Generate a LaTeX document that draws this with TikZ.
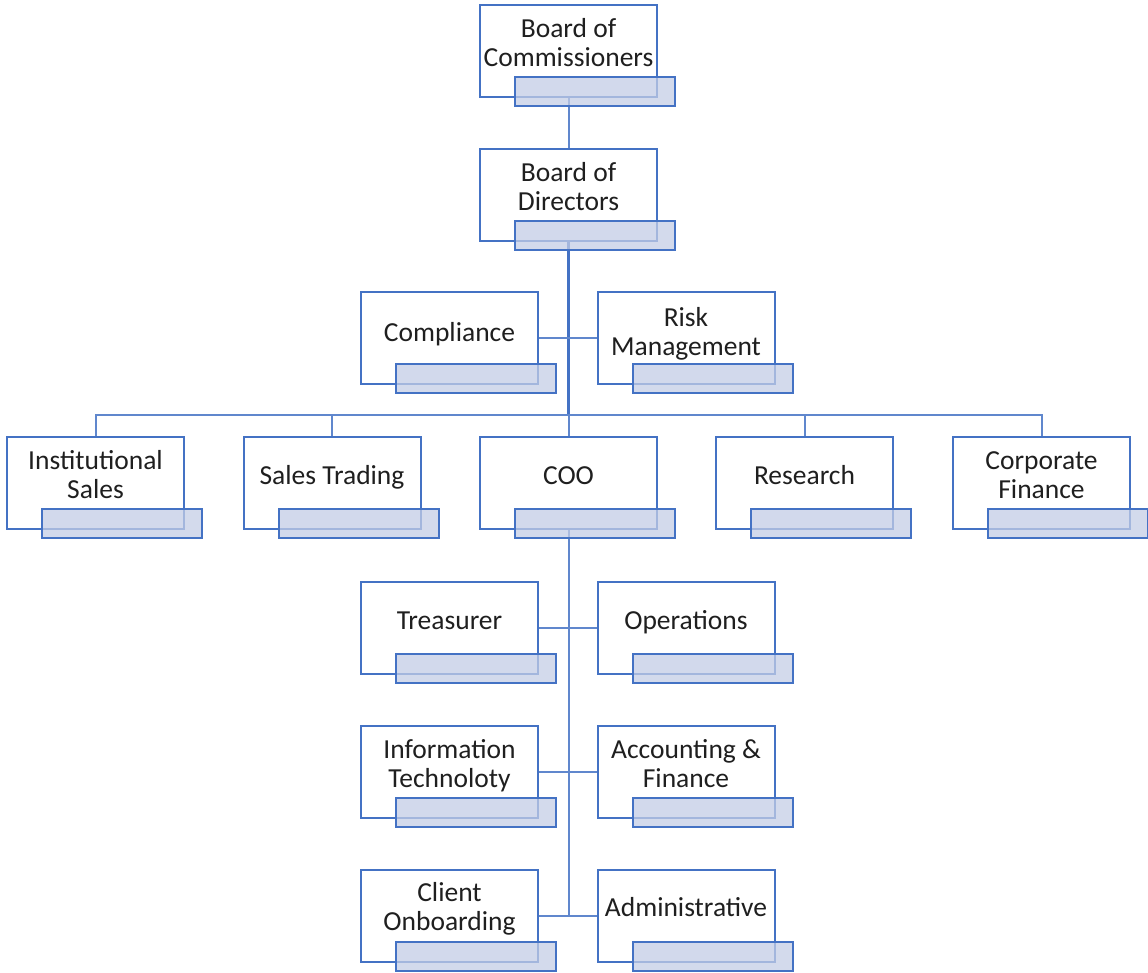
\documentclass[tikz,border=0pt]{standalone}
\usepackage{fontspec}
\setmainfont{Carlito}
\usetikzlibrary{calc}
\definecolor{obl}{RGB}{68,114,196}
\definecolor{subf}{RGB}{196,205,230}
\pgfdeclarelayer{bg}
\pgfsetlayers{bg,main}
\tikzset{
  mainbox/.style={draw=obl, line width=2pt, fill=white, minimum width=177pt, minimum height=92pt, inner sep=0pt, outer sep=0pt},
  subbox/.style={draw=obl, line width=2pt, fill=subf, fill opacity=0.75, minimum width=160pt, minimum height=29pt, inner sep=0pt, outer sep=0pt},
  lbl/.style={anchor=north, align=center, inner sep=0pt, font=\fontsize{27.5}{29.5}\selectfont, text=black!88},
  link/.style={draw=obl!85, line width=2pt},
  trunk/.style={draw=obl, line width=3pt}
}
\newcommand\orgunit[4]{%
  \node[mainbox] (#1) at (#2) {};
  \node[subbox] (#1s) at ($(#1.center)+(26.5,40.5)$) {};
  \node[lbl] (#1t) at ($(#1.center)+(0,#4)$) {\rule{0pt}{20pt}#3};
}
\begin{document}
\begin{tikzpicture}[x=1pt,y=-1pt]
\useasboundingbox (0,0) rectangle (1148,973);
% units
\orgunit{boc}{568.5,51}{Board of\\Commissioners}{-34}
\orgunit{bod}{568.5,195}{Board of\\Directors}{-34}
\orgunit{comp}{449.5,338}{Compliance}{-17}
\orgunit{risk}{686,338}{Risk\\Management}{-32}
\orgunit{inst}{95.5,483}{Institutional\\Sales}{-34}
\orgunit{sales}{332,483}{Sales Trading}{-19}
\orgunit{coo}{568.5,483}{COO}{-19}
\orgunit{res}{804.5,483}{Research}{-19}
\orgunit{corp}{1041.5,483}{Corporate\\Finance}{-34}
\orgunit{treas}{449.5,628}{Treasurer}{-19}
\orgunit{ops}{686,628}{Operations}{-19}
\orgunit{it}{449.5,772}{Information\\Technoloty}{-34}
\orgunit{acc}{686,772}{Accounting \&\\Finance}{-34}
\orgunit{cli}{449.5,916}{Client\\Onboarding}{-35}
\orgunit{adm}{686,916}{Administrative}{-20}
\coordinate (bus) at (568.5,415);
\coordinate (cooend) at (568.5,916);
\begin{pgfonlayer}{bg}
  \draw[link] (boc.south) -- (bod.north);
  \draw[trunk] (bod.south) -- (bus);
  \draw[link] (comp.east) -- (risk.west);
  \draw[link] (inst.north) |- (bus);
  \draw[link] (sales.north) |- (bus);
  \draw[link] (coo.north) -- (bus);
  \draw[link] (res.north) |- (bus);
  \draw[link] (corp.north) |- (bus);
  \draw[link] (coo.south) -- (cooend);
  \draw[link] (treas.east) -- (ops.west);
  \draw[link] (it.east) -- (acc.west);
  \draw[link] (cli.east) -- (adm.west);
\end{pgfonlayer}
\end{tikzpicture}
\end{document}
